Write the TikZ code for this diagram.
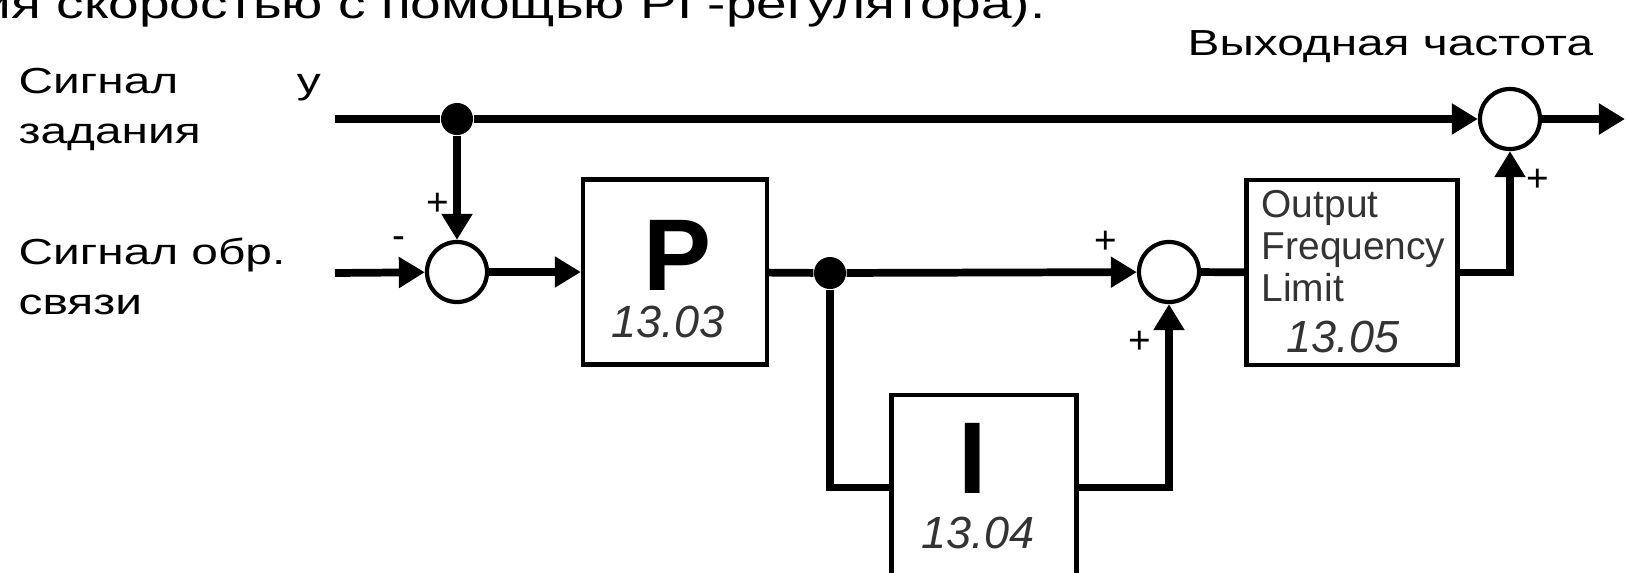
\documentclass[tikz,border=0pt]{standalone}
\usepackage{fontspec}
\setmainfont{Liberation Sans}
\newfontfamily\rusfont{Liberation Sans}[FakeStretch=1.32]
\usetikzlibrary{arrows.meta, positioning}

\begin{document}
\begin{tikzpicture}[
  x=0.01cm, y=-0.01cm,
  SG/.style={line width=2.2pt},
  AR/.style={SG, -{Triangle[length=7.4pt,width=8.4pt]}},
  BLK/.style={draw, line width=1.2pt, minimum width=1.84cm, minimum height=1.85cm, inner sep=0pt},
  SUM/.style={circle, draw, line width=1.2pt, minimum size=0.6cm, inner sep=0pt},
  DOT/.style={circle, fill, minimum size=0.32cm, inner sep=0pt},
  PM/.style={font=\fontsize{11}{11}\selectfont, inner sep=0pt},
  LBL/.style={font=\rusfont\fontsize{10.3}{14.3}\selectfont, inner sep=0pt, align=left},
  HEAD/.style={font=\rusfont\fontsize{11.85}{14}\selectfont, inner sep=0pt},
  BIG/.style={font=\fontsize{29}{29}\selectfont\bfseries, inner sep=0pt},
  NUM/.style={font=\fontsize{12.8}{12.8}\selectfont\itshape, text=black!80, inner sep=0pt},
  LIM/.style={font=\fontsize{11.06}{11.9}\selectfont, text=black!80, inner sep=0pt, align=left}
]
  \useasboundingbox (0,0) rectangle (1626,572);
  \clip (0,0) rectangle (1626,572);

  \node[HEAD, anchor=base west] (head) at (-20,18) {ия скоростью с помощью PI -регулятора).};
  \node[LBL, anchor=north west, text width=3.02cm] (refL) at (18,67) {Сигнал\hfill у\\задания};
  \node[LBL, anchor=north west] (fbL) at (18,237) {Сигнал обр.\\связи};
  \node[LBL, anchor=north west] (outL) at (1187,30) {Выходная частота};

  \coordinate (inTop) at (335,119);
  \coordinate (inFb)  at (335,273);
  \coordinate (outEnd) at (1625,119);

  \node[DOT] (j1) at (457,119) {};
  \node[SUM] (s1) at (457,272) {};
  \node[BLK] (P) at (675,272) {};
  \node[DOT] (j2) at (830,273) {};
  \node[BLK, minimum width=1.85cm] (I) at (984,487.5) {};
  \node[SUM] (s2) at (1169,272) {};
  \node[BLK, minimum width=2.11cm] (lim) at (1352,272.5) {};
  \node[SUM] (s3) at (1510,119) {};

  \node[BIG, anchor=base] (Ptxt) at (678,290) {P};
  \node[NUM, anchor=base] (Pnum) at (668,337) {13.03};
  \node[BIG, anchor=base] (Itxt) at (973,493) {I};
  \node[NUM, anchor=base] (Inum) at (978,548) {13.04};
  \node[LIM, anchor=north west] (limtxt) at (1261,190) {Output\\Frequency\\Limit};
  \node[NUM, anchor=base] (limnum) at (1343,352) {13.05};

  \node[PM] (pA) at (438,204) {+};
  \node[PM] (mA) at (399,243) {-};
  \node[PM] (pB) at (1106,242) {+};
  \node[PM] (pC) at (1140,342) {+};
  \node[PM] (pD) at (1538,180) {+};

  \draw[SG] (inTop) -- (j1);
  \draw[AR] (j1) -- (s3);
  \draw[AR] (j1) -- (s1);
  \draw[AR] (inFb) -- (s1);
  \draw[AR] (s1) -- (P);
  \draw[SG] (P) -- (j2);
  \draw[AR] (j2) -- (s2);
  \draw[SG] (j2) |- (I);
  \draw[AR] (I) -| (s2);
  \draw[SG] (s2) -- (lim);
  \draw[AR] (lim) -| (s3);
  \draw[AR] (s3) -- (outEnd);
\end{tikzpicture}
\end{document}
